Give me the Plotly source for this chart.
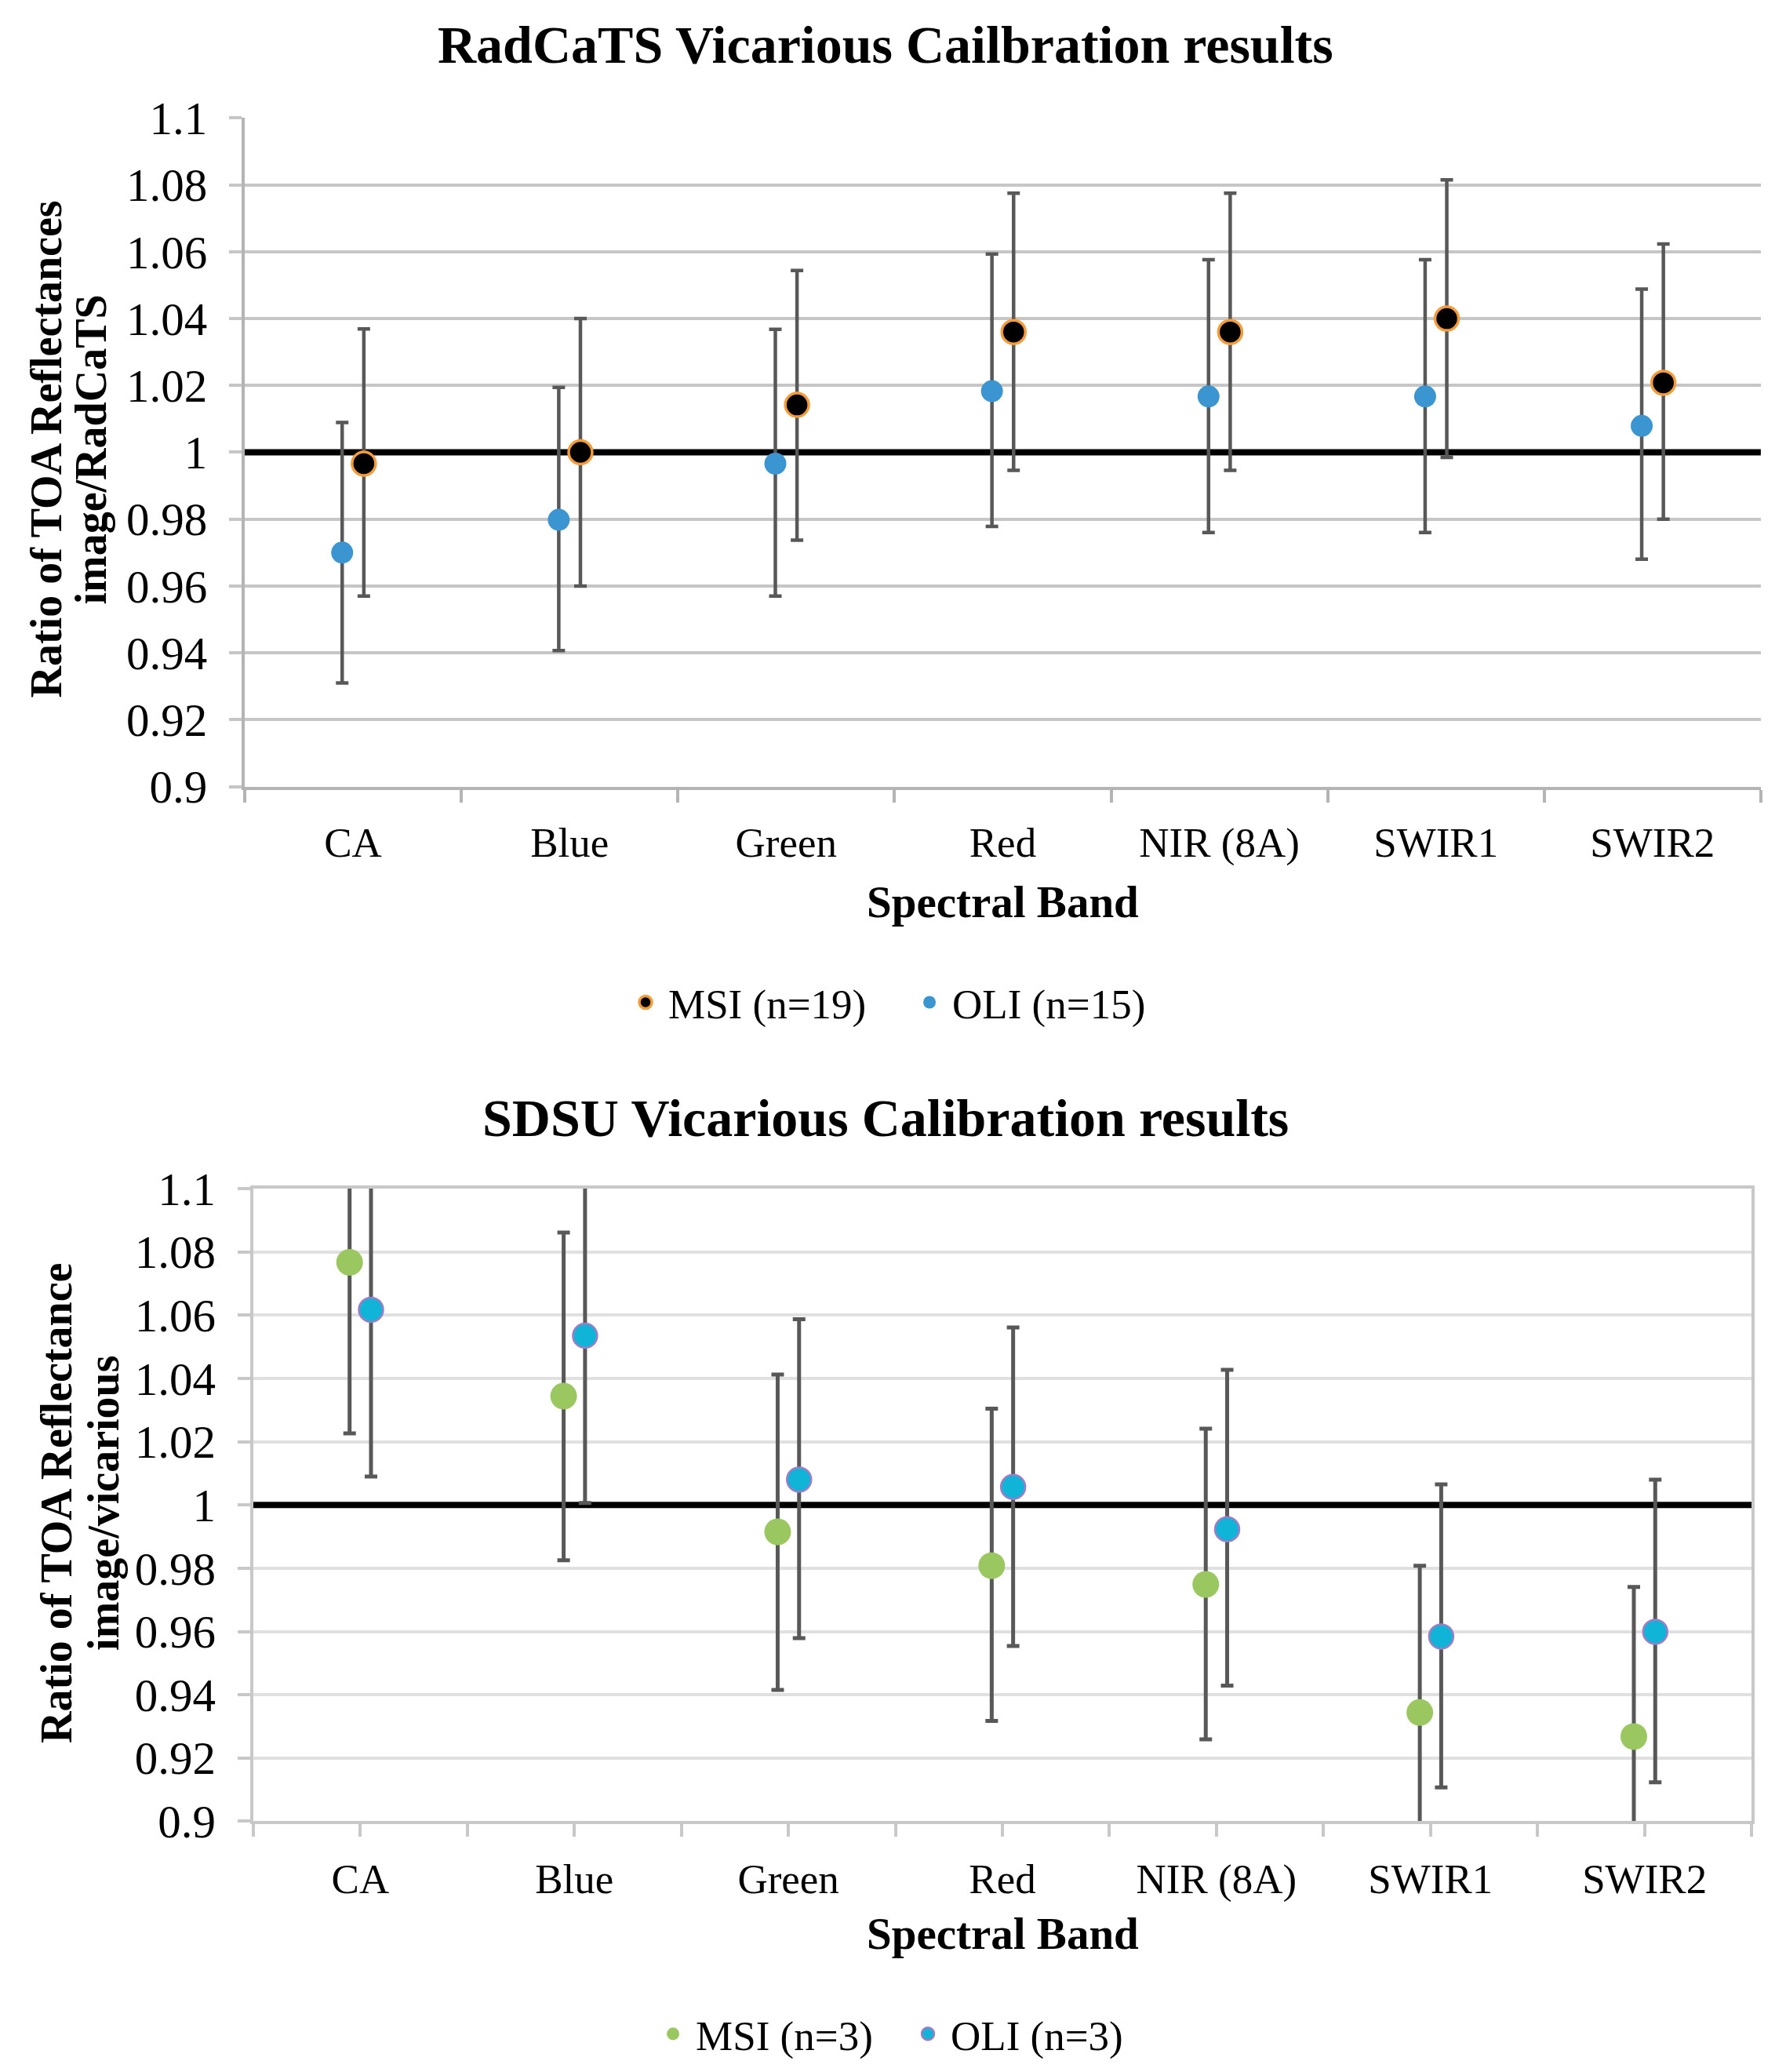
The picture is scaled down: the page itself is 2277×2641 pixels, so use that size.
import plotly.graph_objects as go

bands = ["CA", "Blue", "Green", "Red", "NIR (8A)", "SWIR1", "SWIR2"]
ytick_vals = [0.9, 0.92, 0.94, 0.96, 0.98, 1.0, 1.02, 1.04, 1.06, 1.08, 1.1]
ytick_text = ["0.9", "0.92", "0.94", "0.96", "0.98", "1", "1.02", "1.04", "1.06", "1.08", "1.1"]
ref_ratio = [1.0, 1.0]

# RadCaTS (top)
rad_msi = [0.9966, 1.000, 1.0142, 1.036, 1.036, 1.040, 1.0208]
rad_msi_up = [0.0403, 0.040, 0.0402, 0.0415, 0.0415, 0.0415, 0.0415]
rad_msi_dn = [0.0396, 0.040, 0.0405, 0.0414, 0.0414, 0.0415, 0.0408]
rad_oli = [0.970, 0.9798, 0.9966, 1.0183, 1.0167, 1.0167, 1.0079]
rad_oli_up = [0.0389, 0.0396, 0.0402, 0.0410, 0.0409, 0.0409, 0.0409]
rad_oli_dn = [0.0390, 0.0391, 0.0396, 0.0405, 0.0407, 0.0407, 0.0399]

# SDSU (bottom)
sdsu_msi = [1.0767, 1.0344, 0.9915, 0.9808, 0.9749, 0.9344, 0.9268]
sdsu_msi_up = [0.054, 0.0517, 0.0497, 0.0496, 0.0492, 0.0464, 0.0473]
sdsu_msi_dn = [0.0541, 0.0519, 0.0500, 0.0491, 0.0490, 0.0470, 0.0475]
sdsu_oli = [1.0617, 1.0535, 1.008, 1.0057, 0.9923, 0.9584, 0.9599]
sdsu_oli_up = [0.0527, 0.0529, 0.0507, 0.0504, 0.0504, 0.0481, 0.0481]
sdsu_oli_dn = [0.0527, 0.0529, 0.0501, 0.0503, 0.0494, 0.0477, 0.0476]

legend_top = ["MSI (n=19)", "OLI (n=15)"]
legend_bot = ["MSI (n=3)", "OLI (n=3)"]

FONT = "Liberation Serif"
idx = list(range(len(bands)))
OFF = 0.05
ERRC = "#585858"

fig = go.Figure()

# reference line at ratio = 1 (drawn first, under the markers)
for n in ("", "2"):
    fig.add_trace(go.Scatter(x=[-0.5, len(bands) - 0.5], y=ref_ratio, mode="lines",
                             xaxis="x" + n, yaxis="y" + n, showlegend=False, hoverinfo="skip",
                             line=dict(color="#000000", width=8)))

def add(n, vals, up, dn, name, color, lcolor, lw, legend, size, offset, et):
    xs = [i + offset for i in idx]
    fig.add_trace(go.Scatter(
        x=xs, y=vals, mode="markers", name=name,
        xaxis="x" + n, yaxis="y" + n, legend=legend,
        marker=dict(size=size, color=color, line=dict(color=lcolor, width=lw)),
        error_y=dict(type="data", symmetric=False, array=up, arrayminus=dn,
                     color=ERRC, thickness=et, width=8),
    ))

add("", rad_msi, rad_msi_up, rad_msi_dn, legend_top[0], "#000000", "#f49b3a", 3.5, "legend", 30, OFF, 4.5)
add("", rad_oli, rad_oli_up, rad_oli_dn, legend_top[1], "#3a95d0", "#3a95d0", 0, "legend3", 28, -OFF, 4.5)
add("2", sdsu_msi, sdsu_msi_up, sdsu_msi_dn, legend_bot[0], "#9bc761", "#9bc761", 0, "legend2", 34, -OFF, 5)
add("2", sdsu_oli, sdsu_oli_up, sdsu_oli_dn, legend_bot[1], "#10b4d6", "#a07cc8", 2.5, "legend4", 31, OFF, 5)

xfont = dict(family=FONT, size=53, color="#000000")
yfont = dict(family=FONT, size=59, color="#000000")
boundaries = [i - 0.5 for i in range(len(bands) + 1)]

TOPG, TOPL = "#c6c6c6", "#b4b4b4"
BOTG, BOTL = "#e0e0e0", "#c8c8c8"

def leg(x, y):
    return dict(orientation="h", x=x, xanchor="left", y=y, yanchor="middle",
                font=dict(family=FONT, size=53), itemsizing="trace", itemwidth=48,
                bgcolor="rgba(0,0,0,0)")

fig.update_layout(
    width=2277, height=2641,
    margin=dict(l=0, r=0, t=0, b=0),
    paper_bgcolor="white", plot_bgcolor="white",
    font=dict(family=FONT, size=53, color="#000000"),
    xaxis=dict(domain=[0.1335, 0.9824], anchor="y", range=[-0.5, 6.5],
               tickmode="array", tickvals=idx, ticktext=bands, ticks="",
               tickfont=xfont, ticklabelstandoff=22,
               showgrid=False, zeroline=False, showline=True, linecolor=TOPL, linewidth=4,
               minor=dict(tickmode="array", tickvals=boundaries, ticks="outside", ticklen=16,
                          tickwidth=4, tickcolor=TOPL, showgrid=False)),
    yaxis=dict(domain=[0.6262, 0.9571], anchor="x", range=[0.9, 1.1],
               tickmode="array", tickvals=ytick_vals, ticktext=ytick_text,
               ticks="outside", ticklen=16, tickwidth=4, tickcolor=TOPG,
               tickfont=yfont, ticklabelstandoff=16,
               showgrid=True, gridcolor=TOPG, gridwidth=4, zeroline=False,
               showline=True, linecolor=TOPL, linewidth=4),
    xaxis2=dict(domain=[0.1383, 0.9772], anchor="y2", range=[-0.5, 6.5],
                tickmode="array", tickvals=idx, ticktext=bands,
                ticks="outside", ticklen=16, tickwidth=4, tickcolor=BOTL,
                tickfont=xfont, ticklabelstandoff=8,
                showgrid=False, zeroline=False, showline=True, linecolor=BOTL, linewidth=4,
                mirror=True,
                minor=dict(tickmode="array", tickvals=boundaries, ticks="outside", ticklen=16,
                           tickwidth=4, tickcolor=BOTL, showgrid=False)),
    yaxis2=dict(domain=[0.1140, 0.4272], anchor="x2", range=[0.9, 1.1],
                tickmode="array", tickvals=ytick_vals, ticktext=ytick_text,
                ticks="outside", ticklen=16, tickwidth=4, tickcolor=BOTL,
                tickfont=yfont, ticklabelstandoff=16,
                showgrid=True, gridcolor=BOTG, gridwidth=4, zeroline=False,
                showline=True, linecolor=BOTL, linewidth=4, mirror=True),
    legend=leg(0.3452, 0.5194),
    legend3=leg(0.5042, 0.5194),
    legend2=leg(0.3606, 0.0088),
    legend4=leg(0.5033, 0.0088),
    showlegend=True,
)

def ann(text, x, y, size, angle=0):
    fig.add_annotation(text=text, x=x, y=y, xref="paper", yref="paper", showarrow=False,
                       xanchor="center", yanchor="middle", textangle=angle,
                       font=dict(family=FONT, size=size, color="#000000"))

ann("<b>RadCaTS Vicarious Cailbration results</b>", 0.4925, 0.9935, 68)
ann("<b>SDSU Vicarious Calibration results</b>", 0.4925, 0.4620, 68)
ann("<b>Spectral Band</b>", 0.558, 0.5690, 57)
ann("<b>Spectral Band</b>", 0.5578, 0.0584, 57)
ann("<b>Ratio of TOA Reflectances</b>", 51 / 2277, 0.7932, 56, -90)
ann("<b>image/RadCaTS</b>", 108 / 2277, 0.7932, 56, -90)
ann("<b>Ratio of TOA Reflectance</b>", 64 / 2277, 0.2715, 56, -90)
ann("<b>image/vicarious</b>", 124 / 2277, 0.2715, 56, -90)

fig.write_html("out.html")
